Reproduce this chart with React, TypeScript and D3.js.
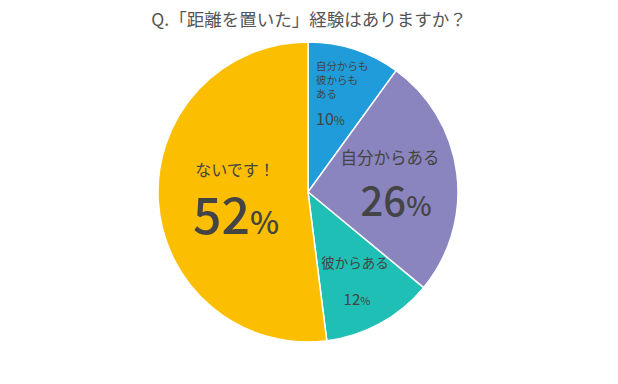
import React from "react";
import * as d3 from "d3";

const categories = ["自分からも彼からもある", "自分からある", "彼からある", "ないです！"];
const values = [10, 26, 12, 52];
const colors = ["#1f9cd9", "#8a84bf", "#1fbfb5", "#fbbe00"];
const title = "Q.「距離を置いた」経験はありますか？";

const W = 618, H = 384;
const cx = 308, cy = 192, R = 150;
const FONT = "'Noto Sans CJK JP', 'Noto Sans', sans-serif";
const TXT = "#444";

export default function App() {
  const pie = d3.pie<number>().sort(null).value((d) => d)(values);
  const arc = d3.arc<d3.PieArcDatum<number>>().innerRadius(0).outerRadius(R);
  return (
    <svg width={W} height={H} style={{ position: "absolute", left: 0, top: 0, background: "#fff" }} fontFamily={FONT}>
      <text x={309} y={26} textAnchor="middle" fontSize={17.5} fill="#555">{title}</text>
      <g transform={`translate(${cx},${cy})`}>
        {pie.map((p, i) => (
          <path key={categories[i]} d={arc(p) || ""} fill={colors[i]} stroke="#fff" strokeWidth={1.5} />
        ))}
      </g>
      {/* 10% */}
      <g fill={TXT}>
        <text x={316} y={70} fontSize={10.5}>自分からも</text>
        <text x={316} y={84} fontSize={10.5}>彼からも</text>
        <text x={316} y={98} fontSize={10.5}>ある</text>
        <text x={316} y={125} fontSize={16}>{values[0]}<tspan fontSize={12}>%</tspan></text>
      </g>
      {/* 26% */}
      <g fill={TXT}>
        <text x={390} y={164} textAnchor="middle" fontSize={16.5}>自分からある</text>
        <text x={396} y={216} textAnchor="middle" fontSize={40} fontWeight={500}>{values[1]}<tspan fontSize={27}>%</tspan></text>
      </g>
      {/* 12% */}
      <g fill={TXT}>
        <text x={355} y={268} textAnchor="middle" fontSize={13.5}>彼からある</text>
        <text x={357} y={305} textAnchor="middle" fontSize={15}>{values[2]}<tspan fontSize={11}>%</tspan></text>
      </g>
      {/* 52% */}
      <g fill={TXT}>
        <text x={235} y={176} textAnchor="middle" fontSize={16}>ないです！</text>
        <text x={236} y={234} textAnchor="middle" fontSize={50} fontWeight={500}>{values[3]}<tspan fontSize={31}>%</tspan></text>
      </g>
    </svg>
  );
}
